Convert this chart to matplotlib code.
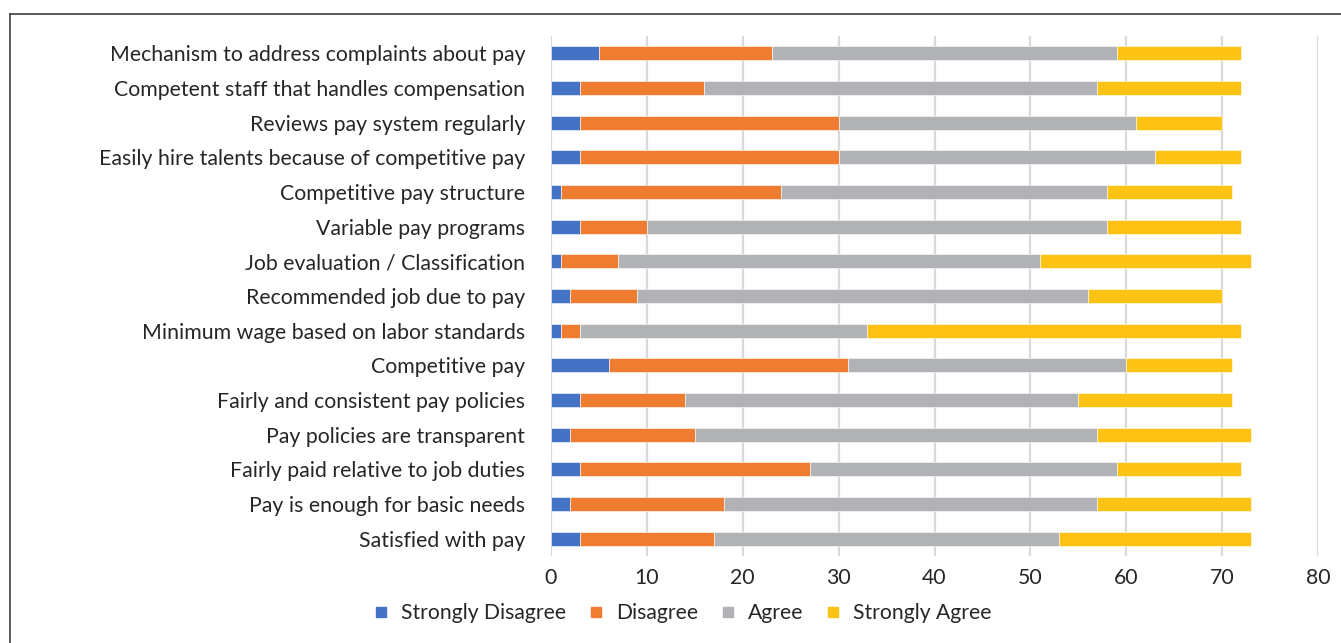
import numpy as np
import matplotlib
matplotlib.use("Agg")
import matplotlib.pyplot as plt
from matplotlib.lines import Line2D

plt.rcParams['font.family'] = ['Lato', 'DejaVu Sans']

# categories, top to bottom as shown
items = [
    "Mechanism to address complaints about pay",
    "Competent staff that handles compensation",
    "Reviews pay system regularly",
    "Easily hire talents because of competitive pay",
    "Competitive pay structure",
    "Variable pay programs",
    "Job evaluation / Classification",
    "Recommended job due to pay",
    "Minimum wage based on labor standards",
    "Competitive pay",
    "Fairly and consistent pay policies",
    "Pay policies are transparent",
    "Fairly paid relative to job duties",
    "Pay is enough for basic needs",
    "Satisfied with pay",
]

strongly_disagree = [5, 3, 3, 3, 1, 3, 1, 2, 1, 6, 3, 2, 3, 2, 3]
disagree = [18, 13, 27, 27, 23, 7, 6, 7, 2, 25, 11, 13, 24, 16, 14]
agree = [36, 41, 31, 33, 34, 48, 44, 47, 30, 29, 41, 42, 32, 39, 36]
strongly_agree = [13, 15, 9, 9, 13, 14, 22, 14, 39, 11, 16, 16, 13, 16, 20]

series = ["Strongly Disagree", "Disagree", "Agree", "Strongly Agree"]
colors = ["#4472c4", "#ef7d31", "#b1b2b5", "#fcc214"]
x_ticks = [0, 10, 20, 30, 40, 50, 60, 70, 80]

fig = plt.figure(figsize=(13.41, 6.43), dpi=100)
ax = fig.add_axes([551 / 1341, 1 - 556 / 643, (1318 - 551) / 1341, 520 / 643])

y = np.arange(len(items))
left = np.zeros(len(items))
for vals, name, col in zip([strongly_disagree, disagree, agree, strongly_agree], series, colors):
    vals = np.array(vals, dtype=float)
    ax.barh(y, vals, left=left, height=0.4, color=col, label=name,
            edgecolor="white", linewidth=0.4, zorder=3)
    left += vals

ax.set_ylim(len(items) - 0.5, -0.5)
ax.set_xlim(0, 80)
ax.set_xticks(x_ticks)
ax.set_yticks(y)
ax.set_yticklabels(items)
ax.tick_params(axis="both", length=0, labelsize=15.3, colors="#262626")
ax.tick_params(axis="y", pad=18.5)
ax.tick_params(axis="x", pad=9)
ax.grid(axis="x", color="#d9d9d9", linewidth=1.6, zorder=0)
for s in ax.spines.values():
    s.set_visible(False)

handles = [Line2D([], [], marker="s", linestyle="none", markersize=7.2,
                  markerfacecolor=c, markeredgecolor=c) for c in colors]
fig.legend(handles, series, loc="center", bbox_to_anchor=(682 / 1341, 1 - 613 / 643),
           ncol=4, frameon=False, fontsize=15.2, handlelength=0.8, handletextpad=0.55,
           columnspacing=1.0, labelcolor="#262626")

# chart border (top and left edges visible in the crop)
fig.add_artist(Line2D([10 / 1341, 1], [1 - 14 / 643, 1 - 14 / 643], color="#404040", linewidth=1.2))
fig.add_artist(Line2D([10 / 1341, 10 / 1341], [0, 1 - 14 / 643], color="#404040", linewidth=1.2))

fig.savefig("out.png", dpi=100)
